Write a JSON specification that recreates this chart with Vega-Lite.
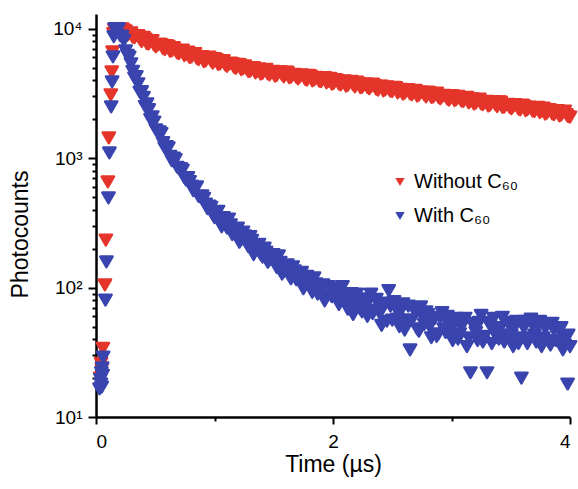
{
  "$schema": "https://vega.github.io/schema/vega-lite/v6.json",
  "width": 474,
  "height": 403,
  "autosize": {"type": "none"},
  "padding": {"left": 96, "top": 14, "right": 8, "bottom": 72},
  "background": "white",
  "config": {"view": {"stroke": null}, "font": "Liberation Sans"},
  "datasets": {
    "red": [
      {"t":0.035,"v":20},{"t":0.043,"v":26},{"t":0.05,"v":23.5},{"t":0.058,"v":34},{"t":0.075,"v":105},{"t":0.083,"v":233},{"t":0.1,"v":656},{"t":0.108,"v":1435},{"t":0.125,"v":3090},{"t":0.133,"v":4650},{"t":0.14,"v":6640},{"t":0.148,"v":9200},{"t":0.155,"v":9900},{"t":0.163,"v":10000},{"t":0.171,"v":10000},{"t":0.179,"v":10000},{"t":0.185,"v":10000},
      {"t":0.19,"v":10000},{"t":0.22,"v":9990},{"t":0.25,"v":9600},{"t":0.28,"v":9150},{"t":0.31,"v":8600},{"t":0.34,"v":8870},{"t":0.37,"v":8320},{"t":0.40,"v":8590},{"t":0.43,"v":7660},{"t":0.46,"v":7960},{"t":0.49,"v":7490},{"t":0.52,"v":7480},{"t":0.55,"v":7550},{"t":0.58,"v":6890},{"t":0.61,"v":7330},{"t":0.64,"v":6760},{"t":0.67,"v":6830},{"t":0.70,"v":6440},{"t":0.73,"v":6850},{"t":0.76,"v":6350},{"t":0.79,"v":5990},{"t":0.82,"v":6430},{"t":0.85,"v":5900},{"t":0.88,"v":6030},{"t":0.91,"v":5580},{"t":0.94,"v":5950},{"t":0.97,"v":5640},
      {"t":1.00,"v":5890},{"t":1.03,"v":5310},{"t":1.06,"v":5570},{"t":1.09,"v":5260},{"t":1.12,"v":5300},{"t":1.15,"v":5380},{"t":1.18,"v":4940},{"t":1.21,"v":5280},{"t":1.24,"v":4910},{"t":1.27,"v":4910},{"t":1.30,"v":4680},{"t":1.33,"v":5020},{"t":1.36,"v":4680},{"t":1.39,"v":4460},{"t":1.42,"v":4840},{"t":1.45,"v":4470},{"t":1.48,"v":4620},{"t":1.51,"v":4300},{"t":1.54,"v":4620},{"t":1.57,"v":4410},{"t":1.60,"v":4630},{"t":1.63,"v":4190},{"t":1.66,"v":4420},{"t":1.69,"v":4210},{"t":1.72,"v":4255},{"t":1.75,"v":4350},{"t":1.78,"v":4010},{"t":1.81,"v":4310},{"t":1.84,"v":4020},{"t":1.87,"v":4110},{"t":1.90,"v":3910},{"t":1.93,"v":4200},{"t":1.96,"v":3920},{"t":1.99,"v":3730},
      {"t":2.02,"v":4050},{"t":2.05,"v":3740},{"t":2.08,"v":3870},{"t":2.11,"v":3600},{"t":2.14,"v":3870},{"t":2.17,"v":3690},{"t":2.20,"v":3870},{"t":2.23,"v":3510},{"t":2.26,"v":3690},{"t":2.29,"v":3530},{"t":2.32,"v":3565},{"t":2.35,"v":3640},{"t":2.38,"v":3360},{"t":2.41,"v":3610},{"t":2.44,"v":3370},{"t":2.47,"v":3440},{"t":2.50,"v":3280},{"t":2.53,"v":3520},{"t":2.56,"v":3290},{"t":2.59,"v":3130},{"t":2.62,"v":3390},{"t":2.65,"v":3140},{"t":2.68,"v":3240},{"t":2.71,"v":3020},{"t":2.74,"v":3240},{"t":2.77,"v":3090},{"t":2.80,"v":3240},{"t":2.83,"v":2950},{"t":2.86,"v":3100},{"t":2.89,"v":2950},{"t":2.92,"v":2985},{"t":2.95,"v":3050},{"t":2.98,"v":2810},
      {"t":3.01,"v":3030},{"t":3.04,"v":2830},{"t":3.07,"v":2890},{"t":3.10,"v":2750},{"t":3.13,"v":2950},{"t":3.16,"v":2750},{"t":3.19,"v":2620},{"t":3.22,"v":2840},{"t":3.25,"v":2630},{"t":3.28,"v":2710},{"t":3.31,"v":2530},{"t":3.34,"v":2720},{"t":3.37,"v":2590},{"t":3.40,"v":2720},{"t":3.43,"v":2470},{"t":3.46,"v":2600},{"t":3.49,"v":2470},{"t":3.52,"v":2500},{"t":3.55,"v":2550},{"t":3.58,"v":2360},{"t":3.61,"v":2540},{"t":3.64,"v":2370},{"t":3.67,"v":2420},{"t":3.70,"v":2300},{"t":3.73,"v":2470},{"t":3.76,"v":2310},{"t":3.79,"v":2190},{"t":3.82,"v":2380},{"t":3.85,"v":2200},{"t":3.88,"v":2270},{"t":3.91,"v":2120},{"t":3.94,"v":2280},{"t":3.97,"v":2170},{"t":4.00,"v":2080},
      {"t":0.205,"v":9550},{"t":0.235,"v":9790},{"t":0.265,"v":8910},{"t":0.295,"v":9300},{"t":0.325,"v":8550},{"t":0.355,"v":8850},{"t":0.385,"v":7960},{"t":0.415,"v":8320},{"t":0.445,"v":7650},{"t":0.475,"v":8110},{"t":0.505,"v":7260},{"t":0.535,"v":7630},{"t":0.565,"v":7040},{"t":0.595,"v":7400},{"t":0.625,"v":6700},{"t":0.655,"v":7170},{"t":0.685,"v":6500},{"t":0.715,"v":6710},{"t":0.745,"v":6210},{"t":0.775,"v":6610},{"t":0.805,"v":6050},{"t":0.835,"v":6440},{"t":0.865,"v":5780},{"t":0.895,"v":6100},{"t":0.925,"v":5650},{"t":0.955,"v":6030},{"t":0.985,"v":5430},
      {"t":1.015,"v":5790},{"t":1.045,"v":5330},{"t":1.075,"v":5690},{"t":1.105,"v":5120},{"t":1.135,"v":5420},{"t":1.165,"v":5030},{"t":1.195,"v":5320},{"t":1.225,"v":4840},{"t":1.255,"v":5180},{"t":1.285,"v":4690},{"t":1.315,"v":4940},{"t":1.345,"v":4560},{"t":1.375,"v":4900},{"t":1.405,"v":4530},{"t":1.435,"v":4860},{"t":1.465,"v":4410},{"t":1.495,"v":4690},{"t":1.525,"v":4370},{"t":1.555,"v":4650},{"t":1.585,"v":4250},{"t":1.615,"v":4610},{"t":1.645,"v":4220},{"t":1.675,"v":4440},{"t":1.705,"v":4100},{"t":1.735,"v":4410},{"t":1.765,"v":4070},{"t":1.795,"v":4370},{"t":1.825,"v":3960},{"t":1.855,"v":4210},{"t":1.885,"v":3930},{"t":1.915,"v":4180},{"t":1.945,"v":3820},{"t":1.975,"v":4140},
      {"t":2.005,"v":3790},{"t":2.035,"v":3990},{"t":2.065,"v":3690},{"t":2.095,"v":3960},{"t":2.125,"v":3660},{"t":2.155,"v":3930},{"t":2.185,"v":3560},{"t":2.215,"v":3780},{"t":2.245,"v":3530},{"t":2.275,"v":3750},{"t":2.305,"v":3440},{"t":2.335,"v":3730},{"t":2.365,"v":3410},{"t":2.395,"v":3590},{"t":2.425,"v":3310},{"t":2.455,"v":3560},{"t":2.485,"v":3290},{"t":2.515,"v":3530},{"t":2.545,"v":3200},{"t":2.575,"v":3400},{"t":2.605,"v":3180},{"t":2.635,"v":3380},{"t":2.665,"v":3090},{"t":2.695,"v":3350},{"t":2.725,"v":3070},{"t":2.755,"v":3230},{"t":2.785,"v":2980},{"t":2.815,"v":3200},{"t":2.845,"v":2960},{"t":2.875,"v":3180},{"t":2.905,"v":2880},{"t":2.935,"v":3060},{"t":2.965,"v":2860},{"t":2.995,"v":3040},
      {"t":3.025,"v":2780},{"t":3.055,"v":3010},{"t":3.085,"v":2760},{"t":3.115,"v":2900},{"t":3.145,"v":2680},{"t":3.175,"v":2880},{"t":3.205,"v":2670},{"t":3.235,"v":2860},{"t":3.265,"v":2590},{"t":3.295,"v":2750},{"t":3.325,"v":2570},{"t":3.355,"v":2740},{"t":3.385,"v":2500},{"t":3.415,"v":2710},{"t":3.445,"v":2480},{"t":3.475,"v":2610},{"t":3.505,"v":2410},{"t":3.535,"v":2590},{"t":3.565,"v":2400},{"t":3.595,"v":2570},{"t":3.625,"v":2330},{"t":3.655,"v":2480},{"t":3.685,"v":2310},{"t":3.715,"v":2450},{"t":3.745,"v":2250},{"t":3.775,"v":2440},{"t":3.805,"v":2230},{"t":3.835,"v":2350},{"t":3.865,"v":2170},{"t":3.895,"v":2330},{"t":3.925,"v":2150},{"t":3.955,"v":2310},{"t":3.985,"v":2090}
    ],
    "blue": [
      {"t":0.03,"v":16.5},{"t":0.038,"v":19.5},{"t":0.042,"v":18},{"t":0.045,"v":22},{"t":0.048,"v":17},{"t":0.052,"v":24},{"t":0.056,"v":21},{"t":0.06,"v":29},{"t":0.08,"v":80},{"t":0.088,"v":158},{"t":0.105,"v":493},{"t":0.113,"v":1099},{"t":0.128,"v":2495},{"t":0.136,"v":3890},{"t":0.143,"v":6070},{"t":0.15,"v":8700},{"t":0.158,"v":10000},{"t":0.166,"v":10000},{"t":0.174,"v":10000},{"t":0.182,"v":10000},
      {"t":0.19,"v":10000},{"t":0.205,"v":8810},{"t":0.22,"v":8710},{"t":0.235,"v":8130},{"t":0.25,"v":6760},{"t":0.265,"v":6240},{"t":0.28,"v":6030},{"t":0.295,"v":5370},{"t":0.31,"v":4680},{"t":0.325,"v":4170},{"t":0.34,"v":4270},{"t":0.355,"v":3760},{"t":0.37,"v":3240},{"t":0.385,"v":3270},{"t":0.40,"v":2950},{"t":0.415,"v":2510},{"t":0.43,"v":2630},{"t":0.445,"v":2370},{"t":0.46,"v":1995},{"t":0.475,"v":2090},{"t":0.49,"v":1905},{"t":0.505,"v":1660},{"t":0.52,"v":1585},{"t":0.535,"v":1600},{"t":0.55,"v":1550},{"t":0.565,"v":1320},{"t":0.58,"v":1200},{"t":0.595,"v":1230},{"t":0.61,"v":1200},{"t":0.625,"v":1035},{"t":0.64,"v":955},{"t":0.655,"v":1000},{"t":0.67,"v":977},{"t":0.685,"v":851},{"t":0.70,"v":832},{"t":0.715,"v":832},{"t":0.73,"v":810},{"t":0.745,"v":708},{"t":0.76,"v":676},{"t":0.775,"v":708},{"t":0.79,"v":661},{"t":0.805,"v":610},{"t":0.82,"v":562},{"t":0.835,"v":589},{"t":0.85,"v":600},{"t":0.865,"v":507},{"t":0.88,"v":501},{"t":0.895,"v":513},{"t":0.91,"v":490},{"t":0.925,"v":442},{"t":0.94,"v":407},{"t":0.955,"v":427},{"t":0.97,"v":417},{"t":0.985,"v":367},
      {"t":1.00,"v":347},{"t":1.015,"v":380},{"t":1.03,"v":389},{"t":1.045,"v":327},{"t":1.06,"v":295},{"t":1.075,"v":347},{"t":1.09,"v":331},{"t":1.105,"v":288},{"t":1.12,"v":339},{"t":1.135,"v":305},{"t":1.15,"v":257},{"t":1.165,"v":269},{"t":1.18,"v":275},{"t":1.195,"v":288},{"t":1.21,"v":224},{"t":1.225,"v":234},{"t":1.24,"v":269},{"t":1.255,"v":251},{"t":1.27,"v":224},{"t":1.285,"v":207},{"t":1.30,"v":248},{"t":1.315,"v":232},{"t":1.33,"v":180},{"t":1.345,"v":202},{"t":1.36,"v":211},{"t":1.375,"v":216},{"t":1.39,"v":180},{"t":1.405,"v":172},{"t":1.42,"v":202},{"t":1.435,"v":188},{"t":1.45,"v":157},{"t":1.465,"v":164},{"t":1.48,"v":180},{"t":1.495,"v":180},{"t":1.51,"v":153},{"t":1.525,"v":143},{"t":1.54,"v":176},{"t":1.555,"v":157},{"t":1.57,"v":127},{"t":1.585,"v":133},{"t":1.60,"v":146},{"t":1.615,"v":150},{"t":1.63,"v":123},{"t":1.645,"v":117},{"t":1.66,"v":145},{"t":1.675,"v":135},{"t":1.69,"v":115},{"t":1.705,"v":116},{"t":1.72,"v":122},{"t":1.735,"v":131},{"t":1.75,"v":98},{"t":1.765,"v":105},{"t":1.78,"v":122},{"t":1.795,"v":117},{"t":1.81,"v":102},{"t":1.825,"v":92},{"t":1.84,"v":119},{"t":1.855,"v":107},{"t":1.87,"v":89},{"t":1.885,"v":92},{"t":1.90,"v":102},{"t":1.915,"v":105},{"t":1.93,"v":79},{"t":1.945,"v":85},{"t":1.96,"v":102},{"t":1.975,"v":97},{"t":1.99,"v":85},
      {"t":2.02,"v":98},{"t":2.035,"v":90},{"t":2.05,"v":74},{"t":2.065,"v":79},{"t":2.08,"v":102},{"t":2.095,"v":90},{"t":2.11,"v":76},{"t":2.125,"v":68},{"t":2.14,"v":83},{"t":2.155,"v":90},{"t":2.17,"v":62},{"t":2.185,"v":73},{"t":2.20,"v":89},{"t":2.215,"v":81},{"t":2.23,"v":68},{"t":2.245,"v":65},{"t":2.26,"v":82},{"t":2.275,"v":76},{"t":2.29,"v":60},{"t":2.305,"v":80},{"t":2.32,"v":89},{"t":2.335,"v":63},{"t":2.35,"v":67},{"t":2.365,"v":81},{"t":2.38,"v":75},{"t":2.395,"v":63},{"t":2.41,"v":51},{"t":2.425,"v":75},{"t":2.44,"v":76},{"t":2.455,"v":55},{"t":2.47,"v":95},{"t":2.485,"v":72},{"t":2.50,"v":56},{"t":2.515,"v":78},{"t":2.53,"v":69},{"t":2.545,"v":57},{"t":2.56,"v":50},{"t":2.575,"v":67},{"t":2.59,"v":75},{"t":2.605,"v":47},{"t":2.62,"v":56},{"t":2.635,"v":72},{"t":2.65,"v":33},{"t":2.665,"v":56},{"t":2.68,"v":68},{"t":2.695,"v":65},{"t":2.71,"v":48},{"t":2.725,"v":46},{"t":2.74,"v":71},{"t":2.755,"v":60},{"t":2.77,"v":52},{"t":2.785,"v":65},{"t":2.80,"v":62},{"t":2.815,"v":50},{"t":2.83,"v":41},{"t":2.845,"v":57},{"t":2.86,"v":58},{"t":2.875,"v":42},{"t":2.89,"v":44},{"t":2.905,"v":59},{"t":2.92,"v":64},{"t":2.935,"v":48},{"t":2.95,"v":45},{"t":2.965,"v":60},{"t":2.98,"v":51},{"t":2.995,"v":43},
      {"t":3.01,"v":39},{"t":3.025,"v":53},{"t":3.04,"v":58},{"t":3.055,"v":40},{"t":3.07,"v":44},{"t":3.085,"v":50},{"t":3.10,"v":55},{"t":3.115,"v":58},{"t":3.13,"v":35},{"t":3.145,"v":41},{"t":3.16,"v":22},{"t":3.175,"v":53},{"t":3.19,"v":51},{"t":3.205,"v":45},{"t":3.22,"v":39},{"t":3.235,"v":54},{"t":3.25,"v":61},{"t":3.265,"v":38},{"t":3.28,"v":42},{"t":3.30,"v":22},{"t":3.31,"v":54},{"t":3.325,"v":51},{"t":3.34,"v":37},{"t":3.355,"v":58},{"t":3.37,"v":48},{"t":3.385,"v":41},{"t":3.40,"v":40},{"t":3.415,"v":49},{"t":3.43,"v":59},{"t":3.445,"v":38},{"t":3.46,"v":43},{"t":3.475,"v":54},{"t":3.49,"v":51},{"t":3.505,"v":43},{"t":3.52,"v":35},{"t":3.535,"v":50},{"t":3.55,"v":55},{"t":3.565,"v":37},{"t":3.58,"v":41},{"t":3.59,"v":20},{"t":3.61,"v":49},{"t":3.625,"v":55},{"t":3.64,"v":37},{"t":3.655,"v":41},{"t":3.67,"v":57},{"t":3.685,"v":51},{"t":3.70,"v":43},{"t":3.715,"v":38},{"t":3.73,"v":51},{"t":3.745,"v":55},{"t":3.76,"v":35},{"t":3.775,"v":41},{"t":3.79,"v":49},{"t":3.805,"v":51},{"t":3.82,"v":38},{"t":3.835,"v":36},{"t":3.85,"v":53},{"t":3.865,"v":47},{"t":3.88,"v":39},{"t":3.895,"v":39},{"t":3.91,"v":47},{"t":3.925,"v":49},{"t":3.94,"v":33},{"t":3.955,"v":36},{"t":3.97,"v":42},{"t":3.98,"v":18},{"t":3.985,"v":43},{"t":4.0,"v":35}
    ]
  },
  "encoding": {
    "x": {
      "field": "t", "type": "quantitative",
      "scale": {"domain": [0, 4], "nice": false, "zero": false},
      "axis": {
        "values": [0, 1, 2, 3, 4],
        "labelExpr": "datum.value % 2 == 0 ? datum.label : ''",
        "title": "Time (µs)",
        "grid": false,
        "domainColor": "black", "domainWidth": 2.5,
        "tickColor": "black", "tickWidth": 2,
        "tickSize": {"condition": {"test": "datum.value % 2 == 0", "value": 7}, "value": 4},
        "labelFontSize": 19, "labelColor": "black", "labelPadding": 8,
        "titleFontSize": 23, "titleFontWeight": "normal", "titleColor": "black",
        "titleX": 237, "titleY": 36, "titleBaseline": "top", "titleAlign": "center"
      }
    },
    "y": {
      "field": "v", "type": "quantitative",
      "scale": {"type": "log", "domain": [10, 13000], "nice": false},
      "axis": {
        "values": [10,20,30,40,50,60,70,80,90,100,200,300,400,500,600,700,800,900,1000,2000,3000,4000,5000,6000,7000,8000,9000,10000],
        "labelExpr": "datum.value == 10 ? '10¹' : datum.value == 100 ? '10²' : datum.value == 1000 ? '10³' : datum.value == 10000 ? '10⁴' : ''",
        "labelOverlap": false,
        "title": "Photocounts",
        "grid": false,
        "domainColor": "black", "domainWidth": 2.5,
        "tickColor": "black", "tickWidth": 2,
        "tickSize": {"condition": {"test": "indexof([10,100,1000,10000], datum.value) >= 0", "value": 8}, "value": 4},
        "labelFontSize": 19, "labelColor": "black", "labelPadding": 6,
        "titleFontSize": 23, "titleFontWeight": "normal", "titleColor": "black",
        "titleX": -64, "titleY": 220, "titleBaseline": "bottom", "titleAlign": "center", "titleAngle": 270
      }
    }
  },
  "layer": [
    {
      "data": {"name": "red"},
      "mark": {"type": "point", "shape": "triangle-down", "filled": true, "size": 150, "opacity": 1, "stroke": "#E5352B", "strokeWidth": 2.5, "strokeJoin": "round"},
      "encoding": {
        "color": {
          "datum": "Without C₆₀", "type": "nominal",
          "scale": {"domain": ["Without C₆₀", "With C₆₀"], "range": ["#E5352B", "#3A44AE"]},
          "legend": {
            "orient": "none", "legendX": 294, "legendY": 158, "title": null,
            "symbolType": "triangle-down", "symbolSize": 90, "symbolStrokeWidth": 0,
            "labelFontSize": 20, "labelColor": "black", "labelOffset": 4,
            "rowPadding": 14, "padding": 0
          }
        }
      }
    },
    {
      "data": {"name": "blue"},
      "mark": {"type": "point", "shape": "triangle-down", "filled": true, "size": 150, "opacity": 1, "stroke": "#3A44AE", "strokeWidth": 2.5, "strokeJoin": "round"},
      "encoding": {
        "color": {"datum": "With C₆₀", "type": "nominal"}
      }
    }
  ]
}
